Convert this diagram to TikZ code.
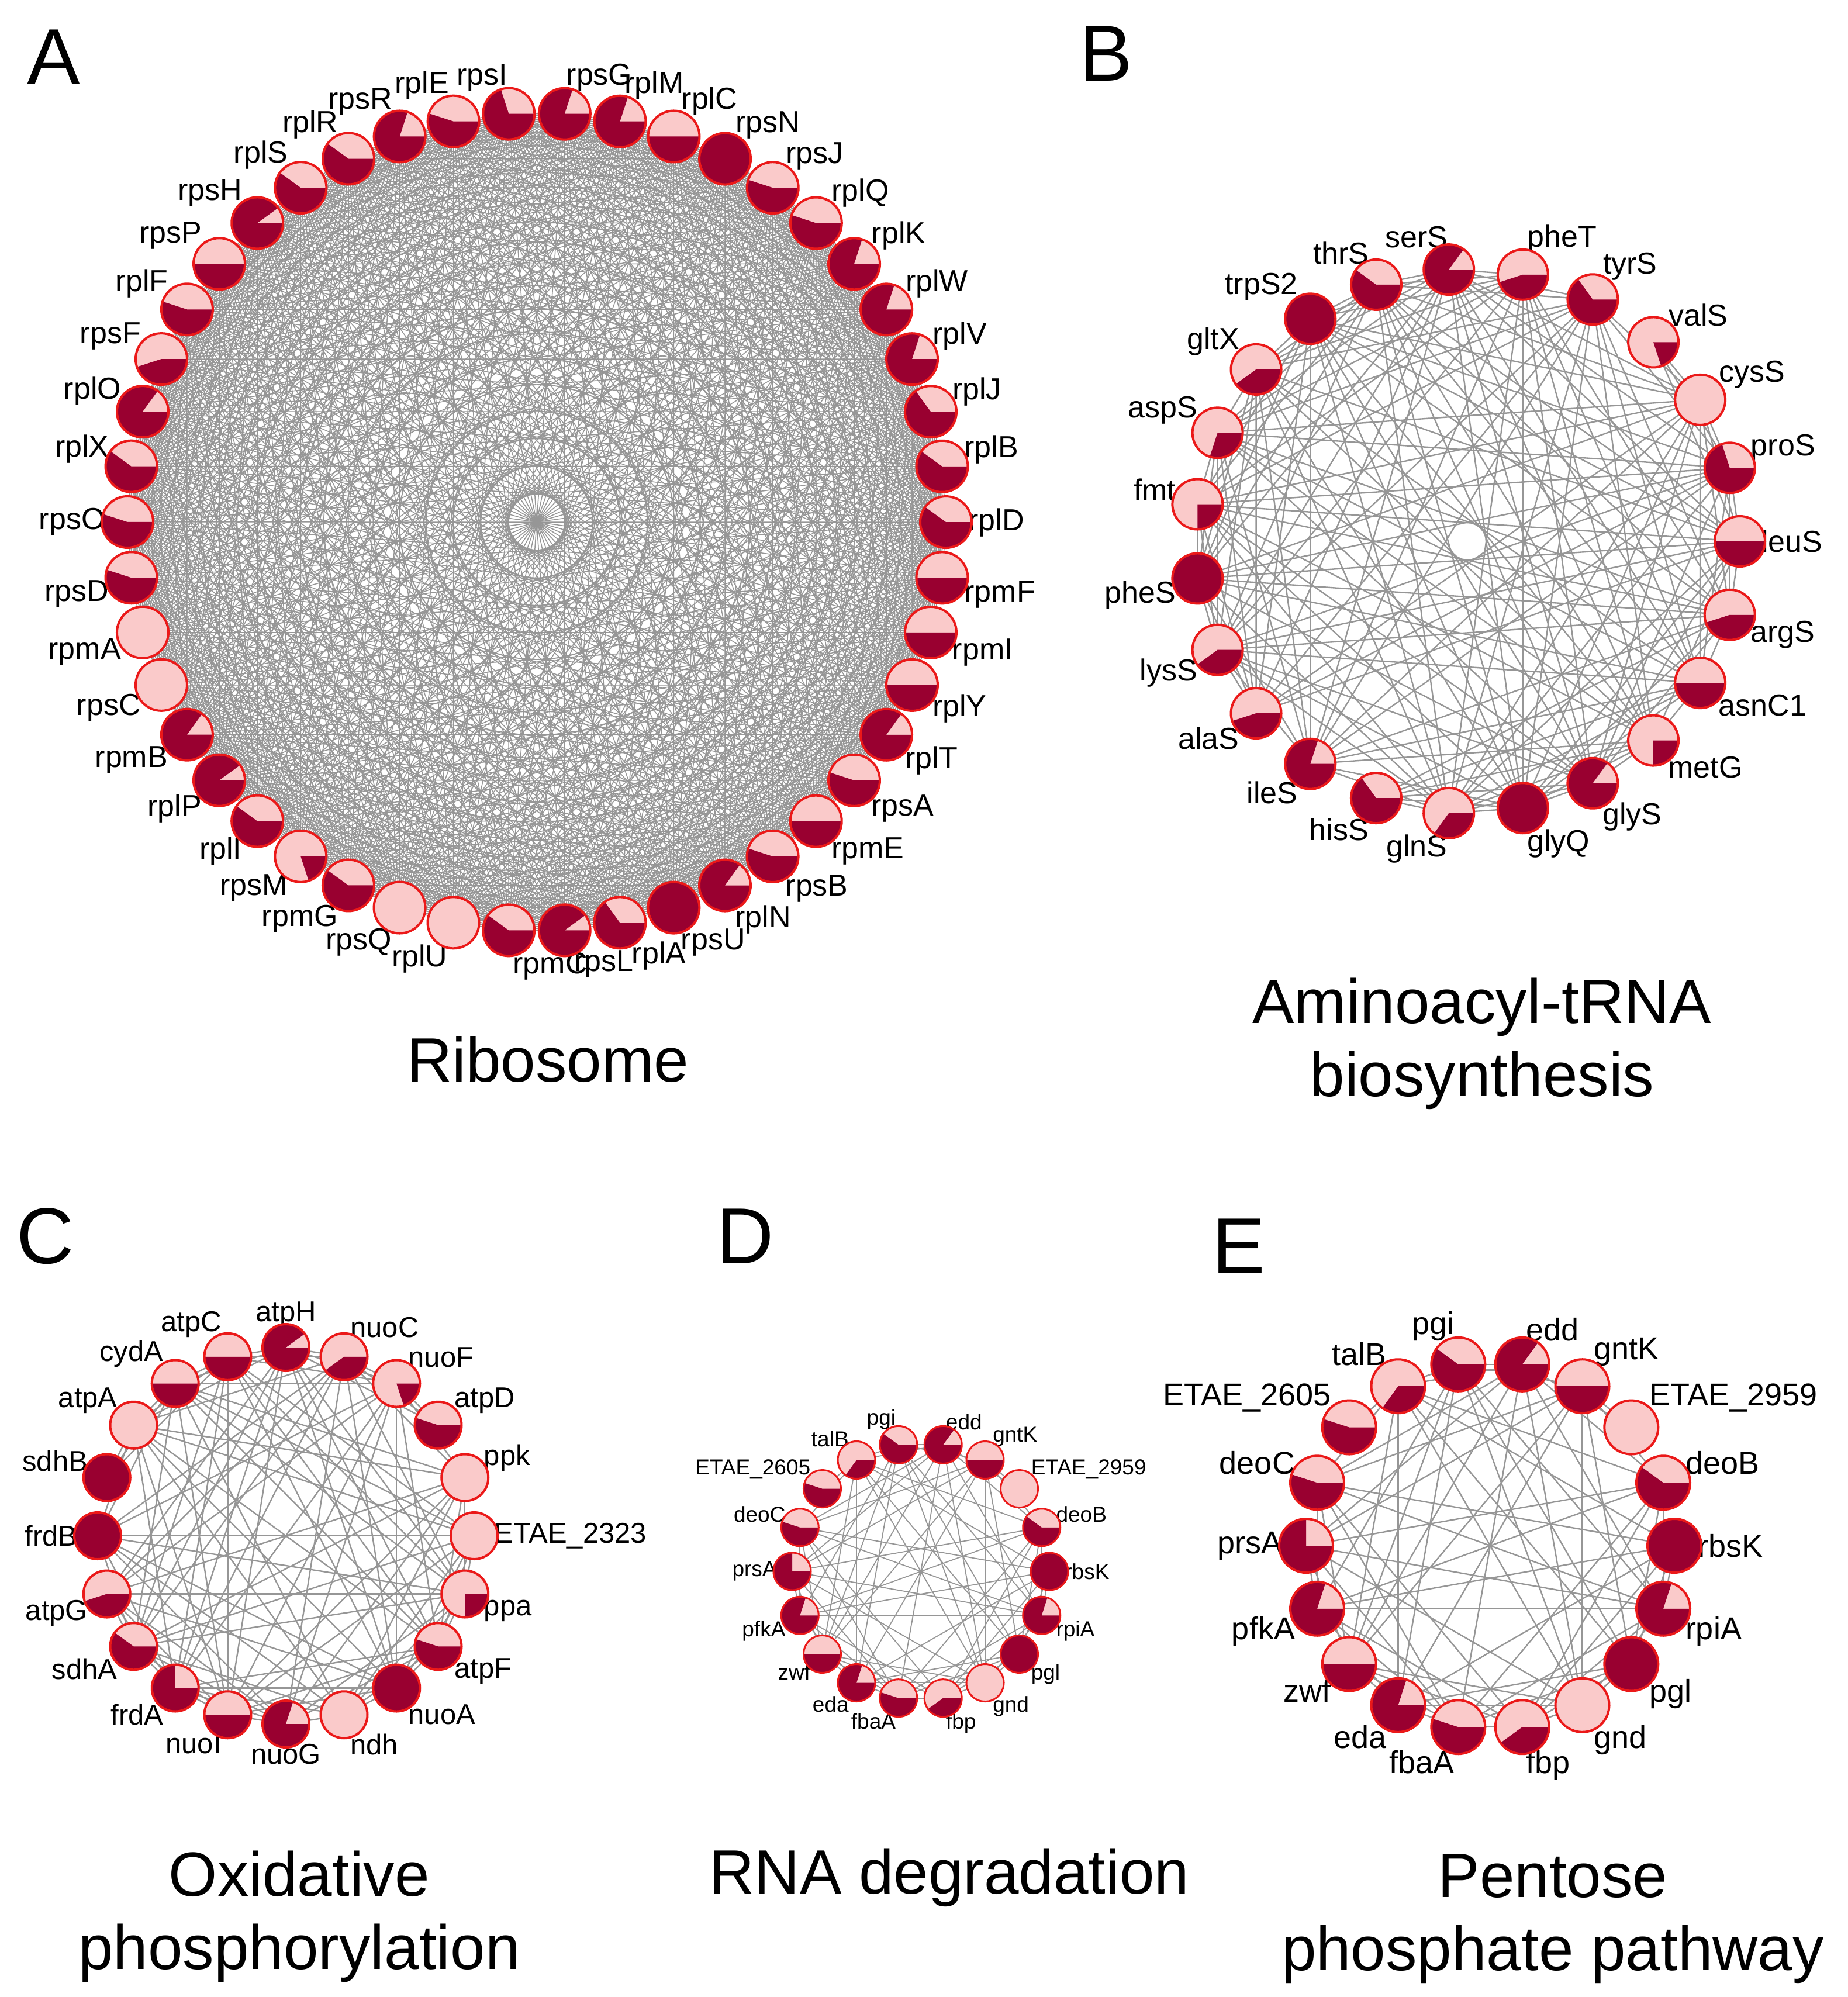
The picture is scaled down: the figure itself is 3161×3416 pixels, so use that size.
\documentclass[tikz,border=0pt]{standalone}
\usepackage{fontspec}
\setmainfont{Liberation Sans}
\definecolor{pk}{RGB}{250,202,202}
\definecolor{dk}{RGB}{153,0,48}
\definecolor{bd}{RGB}{235,25,25}
\definecolor{eg}{RGB}{150,150,150}
\tikzset{
  edgeA/.style={eg,line width=1.5pt},
  edgeB/.style={eg,line width=2.4pt},
  edgeD/.style={eg,line width=1.8pt},
  letter/.style={font=\fontsize{136}{136}\selectfont,inner sep=0pt},
  title/.style={font=\fontsize{107}{125}\selectfont,align=center,inner sep=0pt},
}
\def\labfix{}
% #1 prefix, #2 cx, #3 cy, #4 R, #5 r, #6 start angle, #7 step, #8 font size
\newcommand\mkring[8]{%
 \foreach \nm/\fr [count=\k from 0] in \ringlist {%
  \pgfmathsetmacro\ang{#6+#7*\k}%
  \let\la\ang \labfix
  \node[circle,inner sep=0pt,minimum size={2*#5pt},
    label={[font=\fontsize{#8}{#8}\selectfont,inner sep=0pt,label distance=-6pt]\la:\nm}]
    (#1\k) at ({#2+#4*cos(\ang)},{-#3+#4*sin(\ang)}) {};
 }}
% #1 prefix, #2 n, #3 modulus, #4 threshold, #5 style
\newcommand\mkedges[5]{%
 \pgfmathtruncatemacro\nA{#2-2}\pgfmathtruncatemacro\nB{#2-1}%
 \foreach \i in {0,...,\nA}{%
  \pgfmathtruncatemacro\ia{\i+1}%
  \foreach \j in {\ia,...,\nB}{%
   \pgfmathtruncatemacro\h{mod(\i*7+\j*13+\i*\j*3,#3)}%
   \ifnum\h<#4\relax \draw[#5] (#1\i.center) -- (#1\j.center);\fi
  }}}
% #1 prefix, #2 r, #3 border width
\newcommand\mkpies[3]{%
 \foreach \nm/\fr [count=\k from 0] in \ringlist {%
  \fill[pk] (#1\k.center) circle (#2);
  \ifdim\fr pt>0pt
   \fill[dk] (#1\k.center) -- ++(0:#2) arc[start angle=0,end angle={-360*\fr},radius=#2] -- cycle;
  \fi
  \draw[bd,line width=#3pt] (#1\k.center) circle (#2);
 }}
\begin{document}
\begin{tikzpicture}[x=1pt,y=1pt]
\useasboundingbox (0,0) rectangle (3161,-3416);
\fill[white] (0,0) rectangle (3161,-3416);
% ---------- A ----------
\def\ringlist{rpsI/.7,rplE/.55,rpsR/.8,rplR/.6,rplS/.6,rpsH/.9,rpsP/.5,rplF/.55,rpsF/.45,rplO/.85,rplX/.6,rpsO/.55,rpsD/.55,rpmA/0,rpsC/0,rpmB/.85,rplP/.9,rplI/.6,rpsM/.2,rpmG/.6,rpsQ/0,rplU/0,rpmC/.6,rpsL/.9,rplA/.65,rpsU/1,rplN/.85,rpsB/.55,rpmE/.5,rpsA/.55,rplT/.85,rplY/.5,rpmI/.5,rpmF/.5,rplD/.6,rplB/.6,rplJ/.65,rplV/.8,rplW/.8,rplK/.8,rplQ/.55,rpsJ/.55,rpsN/1,rplC/.5,rplM/.8,rpsG/.8}
\def\labfix{%
 \ifnum\k=21 \def\la{255}\fi
 \ifnum\k=22 \def\la{281}\fi
 \ifnum\k=23 \def\la{296}\fi
 \ifnum\k=24 \def\la{302}\fi}
\mkring{a}{918}{893}{700}{44}{93.91}{7.826}{52}
\def\labfix{}
\mkedges{a}{46}{10}{10}{edgeA}
\mkpies{a}{44}{4}
% ---------- B ----------
\def\ringlist{leuS/.5,proS/.7,cysS/0,valS/.2,tyrS/.65,pheT/.45,serS/.85,thrS/.6,trpS2/1,gltX/.4,aspS/.3,fmt/.25,pheS/1,lysS/.4,alaS/.45,ileS/.8,hisS/.65,glnS/.35,glyQ/1,glyS/.85,metG/.25,asnC1/.5,argS/.45}
\mkring{b}{2510}{926}{466}{43}{0}{15.652}{52}
\mkedges{b}{23}{11}{8}{edgeB}
\mkpies{b}{43}{4}
% ---------- C ----------
\def\ringlist{atpH/.9,nuoC/.4,nuoF/.2,atpD/.55,ppk/0,ETAE\_2323/0,ppa/.25,atpF/.55,nuoA/1,ndh/0,nuoG/.8,nuoI/.5,frdA/.75,sdhA/.6,atpG/.45,frdB/1,sdhB/1,atpA/0,cydA/.5,atpC/.5}
\mkring{c}{489}{2627}{322}{40}{90}{-18}{49}
\mkedges{c}{20}{11}{7}{edgeB}
\mkpies{c}{40}{4}
% ---------- D ----------
\def\ringlist{pgi/.6,edd/.85,gntK/.5,ETAE\_2959/0,deoB/.6,rbsK/1,rpiA/.8,pgl/1,gnd/0,fbp/.4,fbaA/.55,eda/.8,zwf/.5,pfkA/.8,prsA/.75,deoC/.55,ETAE\_2605/.55,talB/.35}
\mkring{d}{1575}{2688}{220}{32}{100}{-20}{37}
\mkedges{d}{18}{11}{6}{edgeD}
\mkpies{d}{32}{3}
% ---------- E ----------
\mkring{e}{2549}{2644}{315}{46}{100}{-20}{54}
\mkedges{e}{18}{11}{6}{edgeB}
\mkpies{e}{46}{4}
% ---------- letters and titles ----------
\node[letter] (LA) at (92,-98) {A};
\node[letter] (LB) at (1892,-92) {B};
\node[letter] (LC) at (78,-2115) {C};
\node[letter] (LD) at (1275,-2115) {D};
\node[letter] (LE) at (2119,-2132) {E};
\node[title] (TA) at (937,-1812) {Ribosome};
\node[title] (TB) at (2535,-1785) {Aminoacyl-tRNA\\biosynthesis};
\node[title] (TC) at (512,-3278) {Oxidative\\phosphorylation};
\node[title] (TD) at (1624,-3212) {RNA degradation};
\node[title] (TE) at (2656,-3282) {Pentose\\phosphate pathway};
\end{tikzpicture}
\end{document}
